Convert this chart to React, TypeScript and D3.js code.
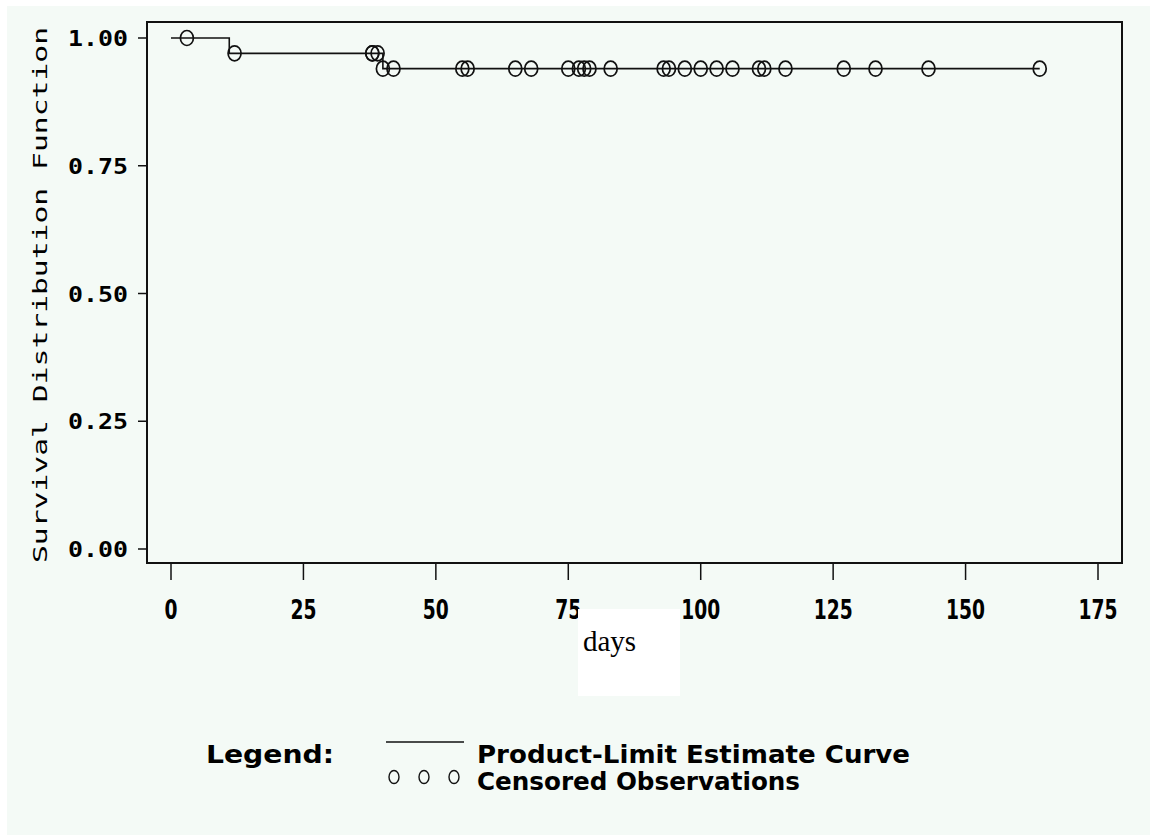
import React from "react";
import * as d3 from "d3";

// ---- data ----
const stepDays = [0, 11, 40, 164];
const stepSurvival = [1.0, 0.97, 0.94, 0.94];
const censoredDays = [
  3, 12, 38, 38, 39, 40, 42, 55, 56, 65, 68, 75, 77, 78, 79, 83, 93, 94, 97,
  100, 103, 106, 111, 112, 116, 127, 133, 143, 164,
];
const xTicks = [0, 25, 50, 75, 100, 125, 150, 175];
const yTicks = [0, 0.25, 0.5, 0.75, 1.0];
const yTitle = "Survival Distribution Function";
const xTitle = "days";
const legendTitle = "Legend:";
const legendCurve = "Product-Limit Estimate Curve";
const legendCensored = "Censored Observations";

const W = 1150;
const H = 835;
const BG = "#f4faf6";

export default function App() {
  const x = d3.scaleLinear().domain([0, 175]).range([171, 1098]);
  const y = d3.scaleLinear().domain([0, 1]).range([549, 38]);

  const pts: [number, number][] = stepDays.map((d, i) => [d, stepSurvival[i]]);
  const line = d3
    .line<[number, number]>()
    .x((d) => x(d[0]))
    .y((d) => y(d[1]))
    .curve(d3.curveStepAfter);

  const survAt = (t: number) => {
    let s = stepSurvival[0];
    for (let i = 0; i < stepDays.length; i++) if (stepDays[i] <= t) s = stepSurvival[i];
    return s;
  };

  const frame = { l: 147, r: 1122, t: 22, b: 563 };
  const tickFont = "'DejaVu Sans Condensed', 'DejaVu Sans', sans-serif";
  const monoFont = "'DejaVu Sans Mono', monospace";

  return (
    <svg
      width={W}
      height={H}
      style={{ position: "absolute", left: 0, top: 0, display: "block" }}
    >
      <rect x={0} y={0} width={W} height={H} fill="#ffffff" />
      <rect x={7} y={6} width={W - 7} height={H - 6} fill={BG} />

      {/* frame */}
      <rect
        x={frame.l}
        y={frame.t}
        width={frame.r - frame.l}
        height={frame.b - frame.t}
        fill="none"
        stroke="#111"
        strokeWidth={2}
      />

      {/* y ticks */}
      {yTicks.map((t) => (
        <g key={"y" + t}>
          <line x1={138} x2={frame.l} y1={y(t)} y2={y(t)} stroke="#111" strokeWidth={1.5} />
          <text
            x={68}
            y={y(t) + 8}
            fontFamily={monoFont}
            fontWeight="bold"
            fontSize={21}
            textLength={60}
            lengthAdjust="spacingAndGlyphs"
            fill="#000"
          >
            {t.toFixed(2)}
          </text>
        </g>
      ))}

      {/* x ticks */}
      {xTicks.map((t) => {
        const s = String(t);
        const w = s.length * 13;
        return (
          <g key={"x" + t}>
            <line x1={x(t)} x2={x(t)} y1={frame.b} y2={580} stroke="#111" strokeWidth={1.5} />
            <text
              x={x(t) - w / 2}
              y={619}
              fontFamily={tickFont}
              fontWeight="bold"
              fontSize={27}
              textLength={w}
              lengthAdjust="spacingAndGlyphs"
              fill="#000"
            >
              {s}
            </text>
          </g>
        );
      })}

      {/* y title */}
      <text
        transform={`translate(47, 295) rotate(-90)`}
        x={-268}
        y={0}
        fontFamily={monoFont}
        fontSize={20}
        textLength={536}
        lengthAdjust="spacingAndGlyphs"
        fill="#000"
      >
        {yTitle}
      </text>

      {/* KM curve */}
      <path d={line(pts) || ""} fill="none" stroke="#111" strokeWidth={1.6} />

      {/* censored marks */}
      {censoredDays.map((d, i) => (
        <ellipse
          key={"c" + i}
          cx={x(d)}
          cy={y(survAt(d))}
          rx={6.5}
          ry={7.5}
          fill="none"
          stroke="#111"
          strokeWidth={1.7}
        />
      ))}

      {/* white box with x title */}
      <rect x={578} y={609} width={102} height={87} fill="#ffffff" />
      <text x={583} y={651} fontFamily="'Liberation Serif', 'Times New Roman', serif" fontSize={29} fill="#000">
        {xTitle}
      </text>

      {/* legend */}
      <text
        x={206}
        y={763}
        fontFamily={tickFont}
        fontWeight="bold"
        fontSize={24}
        textLength={128}
        lengthAdjust="spacingAndGlyphs"
        fill="#000"
      >
        {legendTitle}
      </text>
      <line x1={386} x2={464} y1={742} y2={742} stroke="#111" strokeWidth={1.6} />
      <text
        x={477}
        y={763}
        fontFamily={tickFont}
        fontWeight="bold"
        fontSize={24}
        textLength={433}
        lengthAdjust="spacingAndGlyphs"
        fill="#000"
      >
        {legendCurve}
      </text>
      {[0, 1, 2].map((i) => (
        <ellipse
          key={"lc" + i}
          cx={394 + i * 30}
          cy={777}
          rx={5}
          ry={6.5}
          fill="none"
          stroke="#111"
          strokeWidth={1.4}
        />
      ))}
      <text
        x={477}
        y={790}
        fontFamily={tickFont}
        fontWeight="bold"
        fontSize={24}
        textLength={323}
        lengthAdjust="spacingAndGlyphs"
        fill="#000"
      >
        {legendCensored}
      </text>
    </svg>
  );
}
